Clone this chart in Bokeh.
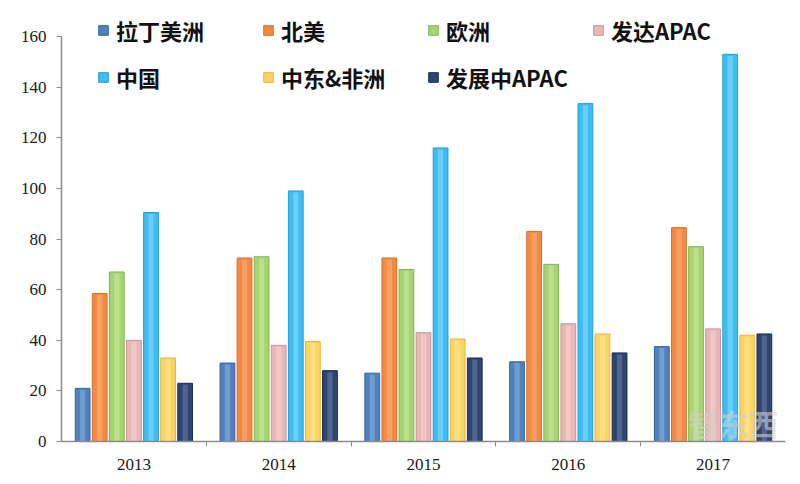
from bokeh.plotting import figure
from bokeh.models import Range1d, FixedTicker, Legend, LegendItem, Label
from bokeh.embed import file_html
from bokeh.resources import INLINE
import numpy as np

years = ["2013", "2014", "2015", "2016", "2017"]
series_names = ["拉丁美洲", "北美", "欧洲", "发达APAC", "中国", "中东&非洲", "发展中APAC"]
latam = [21, 31, 27, 31.5, 37.5]
north_america = [58.5, 72.5, 72.5, 83, 84.5]
europe = [67, 73, 68, 70, 77]
developed_apac = [40, 38, 43, 46.5, 44.5]
china = [90.5, 99, 116, 133.5, 153]
mea = [33, 39.5, 40.5, 42.5, 42]
developing_apac = [23, 28, 33, 35, 42.5]
y_ticks = [0, 20, 40, 60, 80, 100, 120, 140, 160]

series_values = [latam, north_america, europe, developed_apac, china, mea, developing_apac]
fill_colors = ["#4f81bd", "#f38a44", "#a6d471", "#e8b7b5", "#3dbdf2", "#fdd462", "#2f4571"]
edge_colors = ["#36659f", "#d96e28", "#84b651", "#c99694", "#1f9fd6", "#e6b53a", "#1c2c4f"]
hi_colors = ["#8db3e2", "#fbb27e", "#cdeaa6", "#f5d6d4", "#8fdcfb", "#ffe9a2", "#6a7fa8"]

SERIF = "'Liberation Serif', 'Times New Roman', serif"

p = figure(width=792, height=476, output_backend="svg", toolbar_location=None,
           x_range=Range1d(0, 5), y_range=Range1d(0, 171.1),
           min_border_left=61, min_border_right=7, min_border_top=8, min_border_bottom=35)
p.outline_line_color = None
p.xgrid.visible = False
p.ygrid.visible = False
p.background_fill_color = "white"
p.border_fill_color = "white"

centers = np.arange(len(years)) + 0.5
pitch = 0.118
bar_w = 0.102
items = []
for i, (name, vals) in enumerate(zip(series_names, series_values)):
    xs = centers + (i - 3) * pitch
    r = p.vbar(x=xs, top=vals, width=bar_w, fill_color=fill_colors[i],
               line_color=edge_colors[i], line_width=1)
    p.vbar(x=xs, top=np.array(vals) - 0.6, width=bar_w * 0.35, fill_color=hi_colors[i],
           fill_alpha=0.55, line_color=None)
    items.append(LegendItem(label=name, renderers=[r]))

# axes
xa = p.xaxis[0]
xa.ticker = FixedTicker(ticks=list(centers), minor_ticks=[1, 2, 3, 4])
xa.major_label_overrides = {float(c): y for c, y in zip(centers, years)}
xa.major_tick_line_color = None
xa.minor_tick_line_color = "#8c8c8c"
xa.minor_tick_in = 0
xa.minor_tick_out = 5
xa.axis_line_color = "#8c8c8c"
xa.axis_line_width = 1.5
xa.major_label_text_font = SERIF
xa.major_label_text_font_size = "17px"
xa.major_label_text_color = "#1a1a1a"
xa.major_label_standoff = 11

ya = p.yaxis[0]
ya.ticker = FixedTicker(ticks=y_ticks)
ya.bounds = (y_ticks[0], y_ticks[-1])
ya.minor_tick_line_color = None
ya.major_tick_in = 0
ya.major_tick_out = 5
ya.major_tick_line_color = "#8c8c8c"
ya.axis_line_color = "#8c8c8c"
ya.axis_line_width = 1.5
ya.major_label_text_font = SERIF
ya.major_label_text_font_size = "17px"
ya.major_label_text_color = "#1a1a1a"
ya.major_label_standoff = 10

legend_kw = dict(orientation="horizontal", spacing=0, padding=0, margin=0,
                 glyph_width=12, glyph_height=12, label_standoff=7, label_width=146,
                 label_text_font="Noto Sans CJK SC", label_text_font_style="bold",
                 label_text_font_size="22px", label_text_color="#111111",
                 background_fill_alpha=0, border_line_color=None)
leg1 = Legend(items=items[:4], location=(36, 395), **legend_kw)
leg2 = Legend(items=items[4:], location=(36, 348), **legend_kw)
p.add_layout(leg1, "center")
p.add_layout(leg2, "center")

wm = Label(x=4.64, y=-1.5, text="智东西", text_font="Noto Sans CJK SC", text_font_style="bold",
           text_font_size="30px", text_color="#d0d0d0", text_alpha=0.6, text_align="center")
p.add_layout(wm)

open("out.html", "w").write(file_html(p, INLINE))
